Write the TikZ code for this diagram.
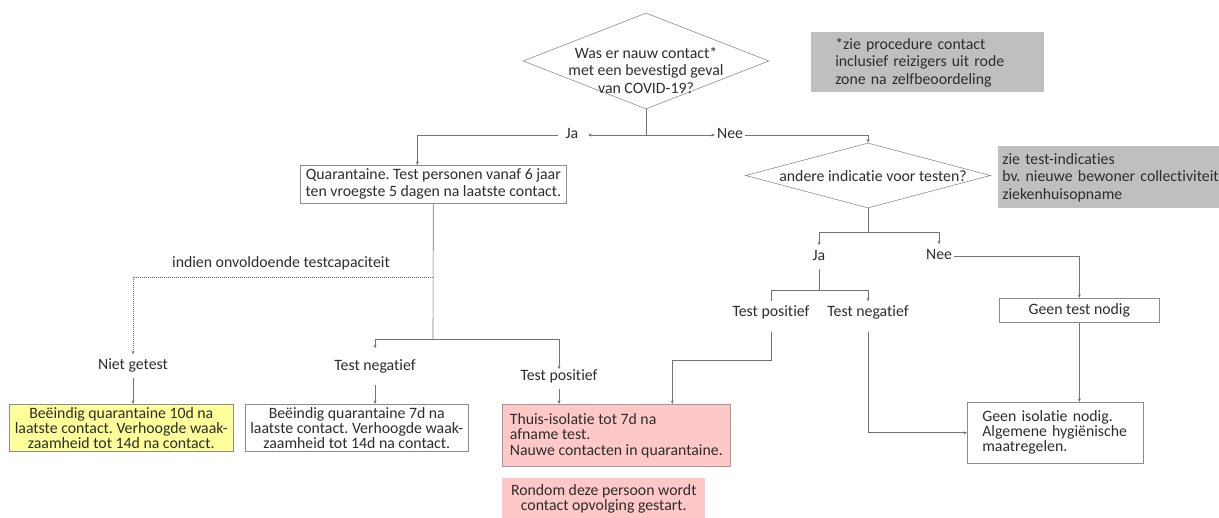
\documentclass[tikz,border=0pt]{standalone}
\usepackage{fontspec}
\setmainfont{Carlito}[Ligatures=NoCommon]
\frenchspacing
\usetikzlibrary{shapes.geometric,arrows.meta}
\definecolor{ln}{RGB}{115,115,115}
\definecolor{bx}{RGB}{140,140,140}
\definecolor{grayfill}{RGB}{191,191,191}
\definecolor{pinkfill}{RGB}{255,200,200}
\definecolor{pinkline}{RGB}{170,150,150}
\definecolor{yellowfill}{RGB}{255,255,153}
\definecolor{txt}{RGB}{45,45,45}
\begin{document}
\begin{tikzpicture}[x=1pt,y=-1pt,
  font=\fontsize{15.8}{17}\selectfont, text=txt,
  conn/.style={draw=ln, line width=0.6pt},
  arr/.style={conn, -{Stealth[length=3.5pt,width=3pt]}},
  dotarr/.style={arr, dash pattern=on 1pt off 1pt},
  box/.style={draw=bx, line width=0.6pt, inner sep=0pt, anchor=north west, align=center},
  lbl/.style={inner xsep=2pt, inner ysep=4.5pt, text height=11pt, text depth=3pt},
  dia/.style={diamond, draw=bx, line width=0.6pt, inner sep=0pt}]
\useasboundingbox (0,0) rectangle (1219,518);

% decisions
\node[dia, minimum width=246pt, minimum height=96pt] (d1) at (646,61) {};
\node[align=center, inner sep=0pt, font=\fontsize{15.8}{17.5}\selectfont] (d1t) at (646,70) {Was er nauw contact*\\met een bevestigd geval\\van COVID-19?};
\node[dia, minimum width=245pt, minimum height=65pt] (d2) at (868,175.5) {};
\node[inner sep=0pt] (d2t) at (873,176) {andere indicatie voor testen?};

% notes
\node[box, draw=none, fill=grayfill, minimum width=215pt, minimum height=60pt, text width=185pt, inner xsep=24pt, align=left, font=\fontsize{15.8}{17.5}\selectfont] (n1) at (811,32) {*zie procedure contact\\inclusief reizigers uit rode\\zone na zelfbeoordeling};
\node[box, draw=none, fill=grayfill, minimum width=227pt, minimum height=62pt, text width=219pt, inner xsep=4pt, align=left, font=\fontsize{15.8}{17.5}\selectfont] (n2) at (998,146) {zie test-indicaties\\bv. nieuwe bewoner collectiviteit\\ziekenhuisopname};

% labels
\node[lbl] (ja1) at (572,135) {Ja};
\node[lbl] (nee1) at (730,135) {Nee};
\node[lbl] (ja2) at (819,257) {Ja};
\node[lbl] (nee2) at (939,256) {Nee};
\node[lbl] (tp2) at (771,313) {Test positief};
\node[lbl] (tn2) at (868,313) {Test negatief};
\node[lbl] (cap) at (281,264) {indien onvoldoende testcapaciteit};
\node[lbl] (niet) at (133,366) {Niet getest};
\node[lbl] (tn1) at (375,367) {Test negatief};
\node[lbl] (tp1) at (559,377) {Test positief};

% boxes
\node[box, minimum width=266pt, minimum height=38pt, font=\fontsize{15.8}{17}\selectfont] (quar) at (300,165) {Quarantaine. Test personen vanaf 6 jaar\\ten vroegste 5 dagen na laatste contact.};
\node[box, fill=yellowfill, minimum width=224pt, minimum height=47pt, font=\fontsize{15.8}{15}\selectfont] (yel) at (9,404) {Beëindig quarantaine 10d na\\laatste contact. Verhoogde waak-\\zaamheid tot 14d na contact.};
\node[box, minimum width=223pt, minimum height=47pt, font=\fontsize{15.8}{15}\selectfont] (wht) at (245,404) {Beëindig quarantaine 7d na\\laatste contact. Verhoogde waak-\\zaamheid tot 14d na contact.};
\node[box, draw=pinkline, fill=pinkfill, minimum width=228pt, minimum height=62pt, align=left, font=\fontsize{15.8}{15.5}\selectfont] (red) at (502,404) {Thuis-isolatie tot 7d na\\afname test.\\Nauwe contacten in quarantaine.};
\node[box, draw=none, fill=pinkfill, minimum width=203pt, minimum height=42pt, font=\fontsize{15.8}{15}\selectfont] (pk2) at (502,478) {Rondom deze persoon wordt\\contact opvolging gestart.};
\node[box, minimum width=160pt, minimum height=24pt] (gtn) at (999,298) {Geen test nodig};
\node[box, minimum width=176pt, minimum height=61pt, text width=146pt, inner xsep=15pt, align=left, font=\fontsize{15.8}{15}\selectfont] (giso) at (967,402) {Geen isolatie nodig.\\Algemene hygiënische\\maatregelen.};

% bend points
\coordinate (s2) at (868,232);
\coordinate (k1) at (771,360);
\coordinate (j0) at (433,277);
\coordinate (j1) at (433,339);

% connectors
\draw[arr, shorten >=7.5pt] (d1.south) |- (ja1.east);
\draw[arr, shorten <=6pt] (ja1.west) -| ([xshift=-16pt]quar.north);
\draw[arr] (d1.south) |- (nee1.west);
\draw[arr] (nee1.east) -| (d2.north);
\draw[conn] (d2.south) -- (s2);
\draw[arr] (s2) -| (ja2.north);
\draw[arr] (s2) -| (nee2.north);
\draw[arr] (nee2.east) -| (gtn.north);
\draw[arr] (gtn.south) -- (gtn.south |- giso.north);
\draw[conn] (ja2.south) -- (ja2.south |- 0,290) -| (tp2.north);
\draw[arr] (ja2.south |- 0,290) -| (tn2.north);
\draw[arr, shorten <=7pt] (tp2.south) |- (k1) -| ([xshift=56pt]red.north);
\draw[arr, shorten <=7pt] (tn2.south) |- (giso.west);
\draw[conn] (quar.south) -- (j1);
\draw[arr, shorten >=7pt] (j1) -| (tn1.north);
\draw[arr, shorten >=-4pt] (j1) -| (tp1.north);
\draw[dotarr] (j0) -| (niet.north);
\draw[arr] (niet.south) -- (niet.south |- yel.north);
\draw[arr, shorten <=6pt] (tn1.south) -- (tn1.south |- wht.north);
\draw[arr] (tp1.south) -- (tp1.south |- red.north);
\end{tikzpicture}
\end{document}
